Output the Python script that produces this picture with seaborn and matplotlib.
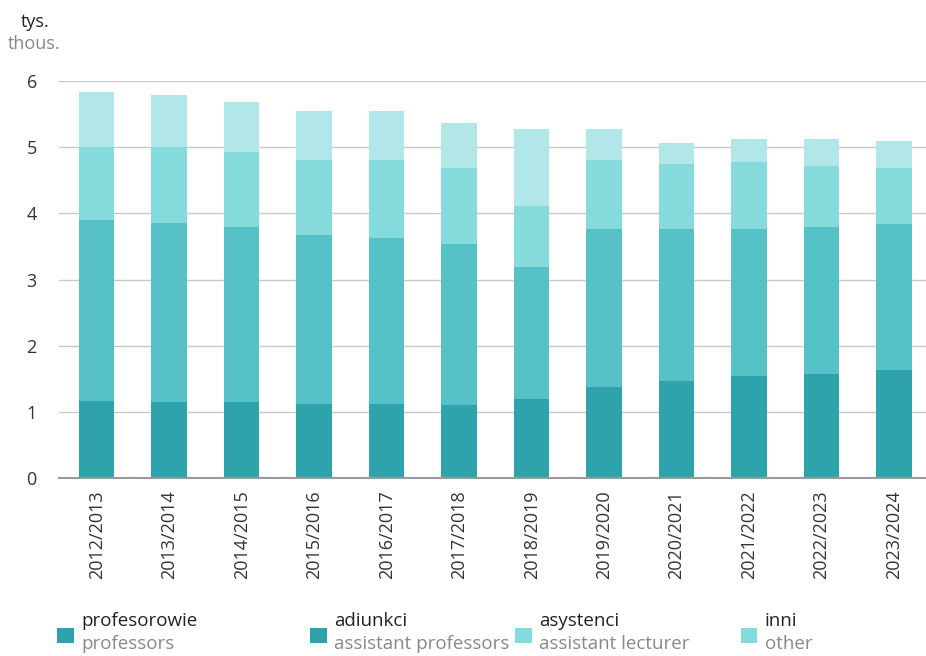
import pandas as pd
import numpy as np
import matplotlib.pyplot as plt
import seaborn as sns
from matplotlib.patches import Rectangle

# academic years
years = ['2012/2013', '2013/2014', '2014/2015', '2015/2016', '2016/2017', '2017/2018',
         '2018/2019', '2019/2020', '2020/2021', '2021/2022', '2022/2023', '2023/2024']

# thousands of people
profesorowie = [1.16, 1.15, 1.15, 1.12, 1.12, 1.10, 1.20, 1.37, 1.47, 1.54, 1.57, 1.64]
adiunkci = [2.74, 2.71, 2.64, 2.56, 2.50, 2.43, 1.99, 2.40, 2.29, 2.23, 2.22, 2.20]
asystenci = [1.10, 1.14, 1.14, 1.13, 1.18, 1.15, 0.92, 1.04, 0.98, 1.00, 0.93, 0.84]
inni = [0.84, 0.79, 0.76, 0.74, 0.75, 0.68, 1.16, 0.47, 0.33, 0.35, 0.40, 0.41]

labels_pl = ['profesorowie', 'adiunkci', 'asystenci', 'inni']
labels_en = ['professors', 'assistant professors', 'assistant lecturer', 'other']

col_prof = '#2ea3ab'
col_adj = '#56c1c6'
col_asy = '#85dbdc'
col_inni = '#b1e7e9'

df = pd.DataFrame({'rok': years, 'prof': profesorowie, 'adj': adiunkci,
                   'asy': asystenci, 'inni': inni})
df['c1'] = df['prof']
df['c2'] = df['c1'] + df['adj']
df['c3'] = df['c2'] + df['asy']
df['c4'] = df['c3'] + df['inni']

sns.set_style('white')
plt.rcParams['font.family'] = ['Open Sans', 'DejaVu Sans']

fig = plt.figure(figsize=(9.26, 6.56), dpi=100)
ax = fig.add_axes([0.0637, 0.2713, 1 - 0.0637, 0.8765 - 0.2713])

# stacked bars drawn as overlapping cumulative totals
for col, c in [('c4', col_inni), ('c3', col_asy), ('c2', col_adj), ('c1', col_prof)]:
    sns.barplot(data=df, x='rok', y=col, color=c, width=0.49, saturation=1,
                ax=ax, zorder=3, linewidth=0)

ax.set_ylim(0, 6)
ax.set_xlim(-0.52, 11.44)
ax.set_yticks([0, 1, 2, 3, 4, 5, 6])
ax.yaxis.grid(True, color='#c8c8c8', linewidth=1.0, zorder=0)
ax.xaxis.grid(False)
for s in ['top', 'right', 'left']:
    ax.spines[s].set_visible(False)
ax.spines['bottom'].set_color('#9a9a9a')
ax.spines['bottom'].set_linewidth(1.5)
ax.spines['bottom'].set_zorder(4)
ax.set_xlabel('')
ax.set_ylabel('')
ax.tick_params(axis='y', length=0, pad=16, labelsize=13, labelcolor='#333333')
ax.tick_params(axis='x', length=0, pad=9, labelsize=13, labelcolor='#333333')
plt.setp(ax.get_xticklabels(), rotation=90)

# unit label
fig.text(0.022, 0.967, 'tys.', fontsize=13, color='#222222', ha='left', va='center')
fig.text(0.008, 0.933, 'thous.', fontsize=13, color='#888888', ha='left', va='center')

# legend
legend_x = [0.062, 0.335, 0.556, 0.800]
legend_cols = [col_prof, col_prof, col_asy, col_asy]
for x0, c, pl, en in zip(legend_x, legend_cols, labels_pl, labels_en):
    fig.patches.append(Rectangle((x0, 0.020), 0.018, 0.023, transform=fig.transFigure,
                                 facecolor=c, edgecolor='none'))
    fig.text(x0 + 0.026, 0.053, pl, fontsize=13.5, color='#222222', ha='left', va='center')
    fig.text(x0 + 0.026, 0.018, en, fontsize=13.5, color='#888888', ha='left', va='center')

fig.savefig('out.png', dpi=100)
